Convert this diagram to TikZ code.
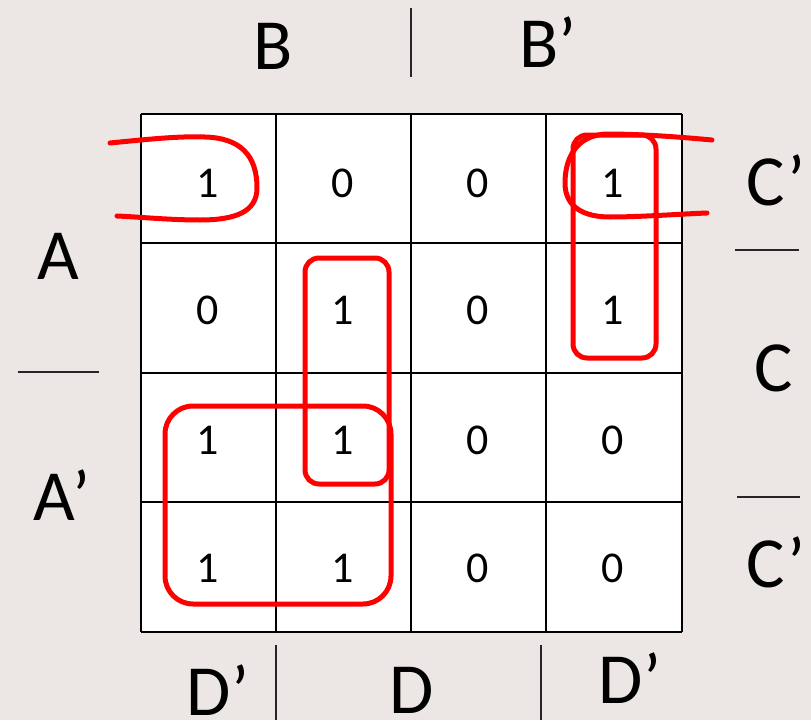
\documentclass[tikz,border=0pt]{standalone}
\usepackage{fontspec}
\setmainfont{Carlito}
\definecolor{bgcol}{RGB}{236,231,228}
\definecolor{loopred}{RGB}{255,0,0}
\begin{document}
\begin{tikzpicture}[x=1pt,y=-1pt,
  cellnum/.style={font=\fontsize{44}{44}\selectfont, inner sep=0pt, anchor=center},
  axislabel/.style={font=\fontsize{72}{72}\selectfont, inner sep=0pt, anchor=center},
  gridline/.style={draw=black, line width=2.4pt},
  sepline/.style={draw=black!85, line width=1.4pt},
  loop/.style={draw=loopred, line width=5pt, line cap=round, line join=round}]
\useasboundingbox (0,0) rectangle (811,720);
\fill[bgcol] (0,0) rectangle (811,720);
\fill[white] (141,114) rectangle (682,632);
% grid
\foreach \x in {141,276,411,546,682} \draw[gridline] (\x,114) -- (\x,632);
\foreach \y in {114,243,373,502,632} \draw[gridline] (141,\y) -- (682,\y);
% cell values
\node[cellnum] (c11) at (208,183) {1};
\node[cellnum] (c12) at (343,183) {0};
\node[cellnum] (c13) at (478,183) {0};
\node[cellnum] (c14) at (613,183) {1};
\node[cellnum] (c21) at (208,310) {0};
\node[cellnum] (c22) at (343,310) {1};
\node[cellnum] (c23) at (478,310) {0};
\node[cellnum] (c24) at (613,310) {1};
\node[cellnum] (c31) at (208,440) {1};
\node[cellnum] (c32) at (343,440) {1};
\node[cellnum] (c33) at (478,440) {0};
\node[cellnum] (c34) at (613,440) {0};
\node[cellnum] (c41) at (208,568) {1};
\node[cellnum] (c42) at (343,568) {1};
\node[cellnum] (c43) at (478,568) {0};
\node[cellnum] (c44) at (613,568) {0};
% axis labels
\node[axislabel] (lB) at (273,46) {B};
\node[axislabel] (lBp) at (548,42) {B’};
\node[axislabel] (lA) at (58,256) {A};
\node[axislabel] (lAp) at (62,495) {A’};
\node[axislabel] (lCp1) at (776,180) {C’};
\node[axislabel] (lC) at (774,368) {C};
\node[axislabel] (lCp2) at (776,562) {C’};
\node[axislabel] (lDp1) at (218,690) {D’};
\node[axislabel] (lD) at (412,690) {D};
\node[axislabel] (lDp2) at (630,678) {D’};
% separator lines
\draw[sepline] (411,8) -- (411,77);
\draw[sepline] (18,372) -- (99,372);
\draw[sepline] (735,250) -- (799,250);
\draw[sepline] (737,497) -- (800,497);
\draw[sepline] (276,645) -- (276,720);
\draw[sepline] (541,645) -- (541,720);
% red groupings
\draw[loop, rounded corners=14pt] (305,258) rectangle (389,484);
\draw[loop, rounded corners=28pt] (165,406) rectangle (391,604);
\draw[loop, rounded corners=14pt] (573,135) rectangle (656,358);
\draw[loop] (110,143) .. controls (150,139) and (180,136) .. (205,137)
  .. controls (240,138) and (257,155) .. (257,188)
  .. controls (257,212) and (235,220) .. (200,220)
  .. controls (170,220) and (140,217) .. (117,216);
\draw[loop] (712,140) .. controls (680,137) and (640,134) .. (607,134)
  .. controls (575,135) and (565,160) .. (565,183)
  .. controls (565,208) and (585,217) .. (610,217)
  .. controls (640,217) and (680,214) .. (707,213);
\end{tikzpicture}
\end{document}
